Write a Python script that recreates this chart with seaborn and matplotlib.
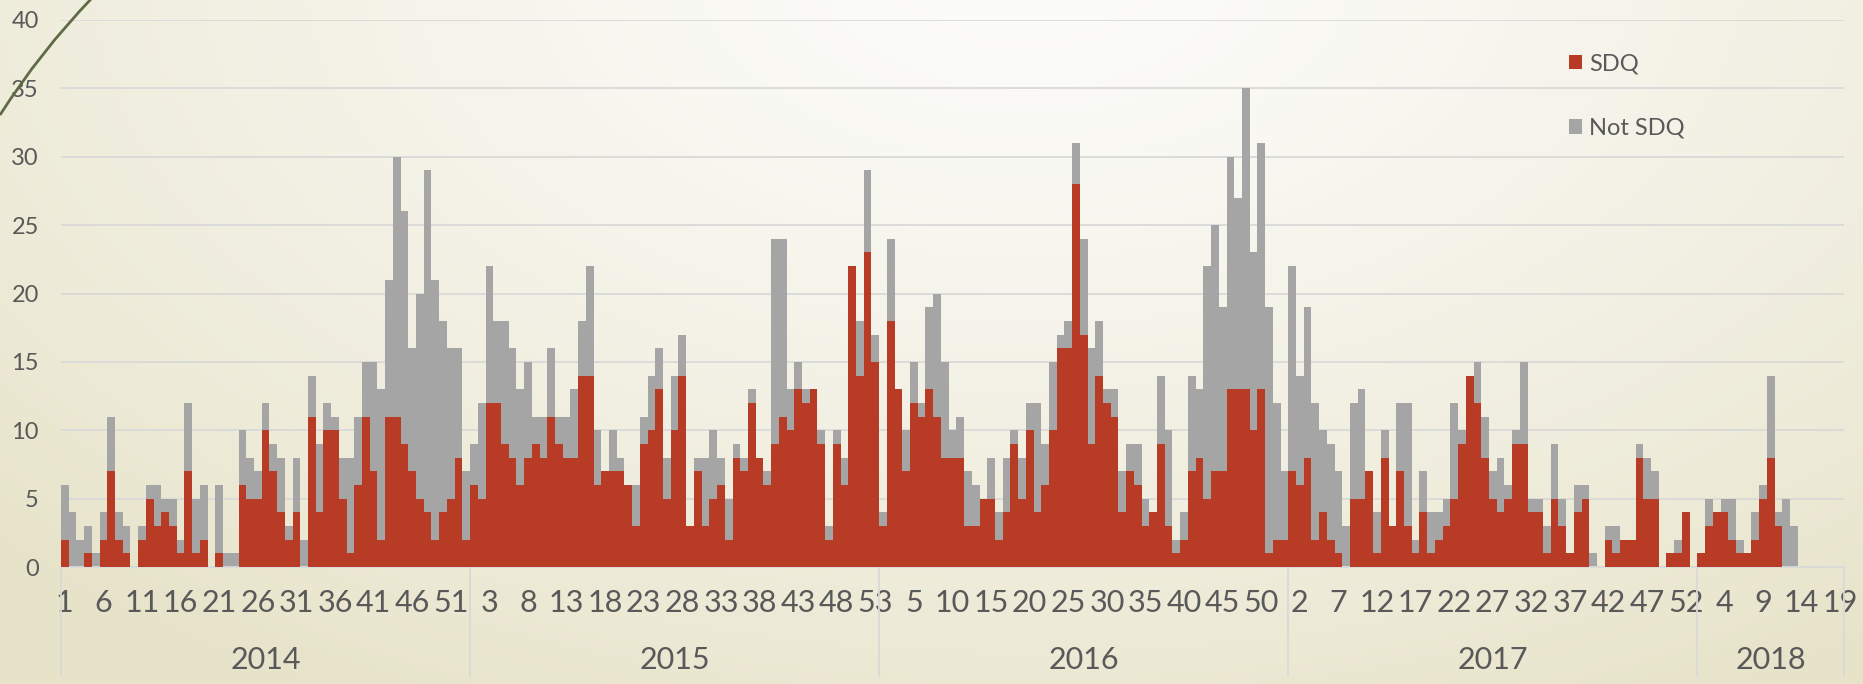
import numpy as np
import pandas as pd
import matplotlib
matplotlib.use("Agg")
import matplotlib.pyplot as plt
from matplotlib.path import Path
from matplotlib.patches import PathPatch
import seaborn as sns

# weekly counts
years = ["2014", "2015", "2016", "2017", "2018"]
weeks_per_year = [53, 53, 53, 53, 19]

sdq_2014 = [2, 0, 0, 1, 0, 2, 7, 2, 1, 0, 2, 5, 3, 4, 3, 1, 7, 1, 2, 0,
            1, 0, 0, 6, 5, 5, 10, 7, 4, 2, 4, 0, 11, 4, 10, 10, 5, 1, 6, 11,
            7, 2, 11, 11, 9, 7, 5, 4, 2, 4, 5, 8, 2]
not_sdq_2014 = [4, 4, 2, 2, 1, 2, 4, 2, 2, 0, 1, 1, 3, 1, 2, 1, 5, 4, 4, 0,
                5, 1, 1, 4, 3, 2, 2, 2, 4, 1, 4, 2, 3, 5, 2, 1, 3, 7, 5, 4,
                8, 11, 10, 19, 17, 9, 15, 25, 19, 14, 11, 8, 5]

sdq_2015 = [6, 5, 12, 12, 9, 8, 6, 8, 9, 8, 11, 9, 8, 8, 14, 14, 6, 7, 7, 7,
            6, 3, 9, 10, 13, 5, 10, 14, 3, 7, 3, 5, 6, 2, 8, 7, 12, 8, 6, 9,
            11, 10, 13, 12, 13, 9, 2, 9, 6, 22, 14, 23, 15]
not_sdq_2015 = [3, 7, 10, 6, 9, 8, 7, 7, 2, 3, 5, 2, 3, 5, 4, 8, 4, 0, 3, 1,
                0, 3, 2, 4, 3, 3, 4, 3, 0, 1, 5, 5, 2, 3, 1, 1, 1, 0, 1, 15,
                13, 3, 2, 1, 0, 1, 1, 1, 2, 0, 4, 6, 2]

sdq_2016 = [3, 18, 13, 7, 12, 11, 13, 11, 8, 8, 8, 3, 3, 5, 5, 2, 4, 9, 5, 10,
            4, 6, 10, 16, 16, 28, 17, 9, 14, 12, 11, 4, 7, 6, 3, 4, 9, 3, 1, 2,
            7, 8, 5, 7, 7, 13, 13, 13, 10, 13, 1, 2, 2]
not_sdq_2016 = [1, 6, 0, 3, 3, 1, 6, 9, 7, 2, 3, 4, 3, 0, 3, 2, 4, 1, 3, 2,
                8, 3, 5, 1, 2, 3, 7, 7, 4, 1, 2, 3, 2, 3, 2, 0, 5, 7, 1, 2,
                7, 5, 17, 18, 12, 17, 14, 22, 13, 18, 18, 10, 5]

sdq_2017 = [7, 6, 8, 2, 4, 2, 1, 0, 5, 5, 7, 1, 8, 3, 7, 3, 1, 4, 1, 2,
            3, 5, 9, 14, 12, 8, 5, 4, 5, 9, 9, 4, 4, 1, 5, 3, 1, 4, 5, 0,
            0, 2, 1, 2, 2, 8, 5, 5, 0, 1, 1, 4, 0]
not_sdq_2017 = [15, 8, 11, 10, 6, 7, 6, 3, 7, 8, 0, 3, 2, 0, 5, 9, 1, 3, 3, 2,
                2, 7, 1, 0, 3, 3, 2, 4, 1, 1, 6, 1, 1, 2, 4, 2, 0, 2, 1, 1,
                0, 1, 2, 0, 0, 1, 3, 2, 0, 0, 1, 0, 0]

sdq_2018 = [1, 3, 4, 4, 2, 1, 1, 2, 5, 8, 3, 0, 0, 0, 0, 0, 0, 0, 0]
not_sdq_2018 = [0, 2, 0, 1, 3, 1, 0, 2, 1, 6, 1, 5, 3, 0, 0, 0, 0, 0, 0]

sdq = sdq_2014 + sdq_2015 + sdq_2016 + sdq_2017 + sdq_2018
not_sdq = not_sdq_2014 + not_sdq_2015 + not_sdq_2016 + not_sdq_2017 + not_sdq_2018

year_col = []
week_col = []
for y, n in zip(years, weeks_per_year):
    year_col += [y] * n
    week_col += list(range(1, n + 1))

df = pd.DataFrame({"year": year_col, "week": week_col, "sdq": sdq, "not_sdq": not_sdq})
df["pos"] = np.arange(len(df))
df["total"] = df["sdq"] + df["not_sdq"]
n = len(df)

RED = "#B83B26"
GREY = "#A5A5A5"
TXT = "#595959"
GRID = "#D9D9D9"

sns.set_style("white")
plt.rcParams["font.family"] = ["Lato", "DejaVu Sans"]

W, H = 1863, 684
fig = plt.figure(figsize=(W / 100, H / 100), dpi=100)

# slide background: soft radial gradient, light at top centre
bg = fig.add_axes([0, 0, 1, 1], zorder=-10)
gx, gy = np.meshgrid(np.linspace(0, 1, 400), np.linspace(1, 0, 150))
d = np.sqrt(((gx - 0.55) / 0.78) ** 2 + ((gy - 1.05) / 1.25) ** 2)
t = np.clip(d, 0, 1) ** 1.3
c0 = np.array([252, 252, 250]) / 255
c1 = np.array([231, 227, 201]) / 255
img = c0[None, None, :] * (1 - t[..., None]) + c1[None, None, :] * t[..., None]
bg.imshow(img, aspect="auto", extent=[0, 1, 0, 1], interpolation="bilinear")
bg.set_axis_off()

# decorative curve in the top-left corner
curve = Path([(0 / W, (H - 115) / H), (40 / W, (H - 52) / H), (92 / W, (H + 2) / H)],
             [Path.MOVETO, Path.CURVE3, Path.CURVE3])
fig.patches.append(PathPatch(curve, transform=fig.transFigure, fill=False,
                             edgecolor="#5E6B45", lw=2))

ax = fig.add_axes([61 / W, 117 / H, 1783 / W, 547 / H])
ax.patch.set_alpha(0)

sns.barplot(data=df, x="pos", y="total", color=GREY, width=1, saturation=1,
            errorbar=None, linewidth=0, label="Not SDQ", ax=ax, zorder=2)
sns.barplot(data=df, x="pos", y="sdq", color=RED, width=1, saturation=1,
            errorbar=None, linewidth=0, label="SDQ", ax=ax, zorder=3)

ax.set_xlim(-0.5, n - 0.5)
ax.set_ylim(0, 40)
ax.set_yticks(range(0, 41, 5))
ax.set_xticks(df["pos"][::5])
ax.set_xticklabels(df["week"][::5])
ax.set_xlabel("")
ax.set_ylabel("")
ax.grid(axis="y", color=GRID, lw=1.3, zorder=0)
ax.grid(axis="x", visible=False)
for s in ["top", "right", "left"]:
    ax.spines[s].set_visible(False)
ax.spines["bottom"].set_color(GRID)
ax.spines["bottom"].set_linewidth(1.3)
ax.tick_params(axis="x", length=0, pad=16, labelsize=22, labelcolor=TXT)
ax.tick_params(axis="y", length=0, pad=16, labelsize=17, labelcolor=TXT)

# year groups under the week labels
start = 0
for y, nw in zip(years, weeks_per_year):
    ax.plot([start - 0.5, start - 0.5], [0, -0.2], color=GRID, lw=1.3,
            transform=ax.get_xaxis_transform(), clip_on=False)
    ax.text(start + (nw - 1) / 2, -0.17, y, ha="center", va="center",
            fontsize=22, color=TXT, transform=ax.get_xaxis_transform())
    start += nw
ax.plot([n - 0.5, n - 0.5], [0, -0.2], color=GRID, lw=1.3,
        transform=ax.get_xaxis_transform(), clip_on=False)

handles, labels = ax.get_legend_handles_labels()
order = [labels.index("SDQ"), labels.index("Not SDQ")]
ax.legend([handles[i] for i in order], [labels[i] for i in order],
          loc="upper left", bbox_to_anchor=(1548 / W, (H - 32) / H),
          bbox_transform=fig.transFigure, frameon=False, fontsize=17,
          labelcolor=TXT, handlelength=0.55, handleheight=0.55,
          handletextpad=0.3, labelspacing=1.85)

fig.savefig("out.png", dpi=100)
